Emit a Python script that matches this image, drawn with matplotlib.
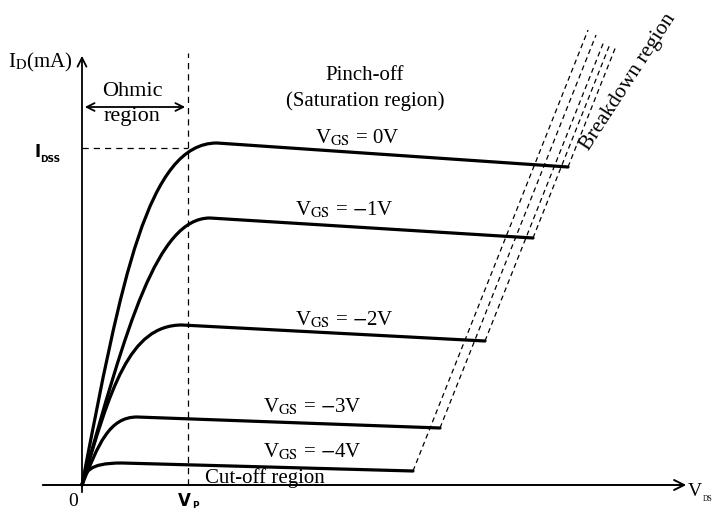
import matplotlib
matplotlib.use('Agg')

import matplotlib.pyplot as plt
from matplotlib.path import Path
from matplotlib.patches import PathPatch

# ============================================================
# DATA (diagram units: V_DS and I_D measured from the origin)
# ============================================================

vgs_labels = [r"V$_{\rm GS}$ = 0V", r"V$_{\rm GS}$ = $-$1V", r"V$_{\rm GS}$ = $-$2V",
              r"V$_{\rm GS}$ = $-$3V", r"V$_{\rm GS}$ = $-$4V"]
init_slope = [5.2, 3.55, 3.4, 2.5, 4.0]      # slope of the ohmic rise
i_peak = [342, 267, 160, 68, 22]             # saturation current just after the knee
v_peak = [135, 128, 100, 55, 40]             # where the plateau peaks
i_end = [318, 247, 144, 57, 14]              # current where breakdown starts
v_end = [486, 451, 403, 358, 331]            # V_DS where breakdown starts
i_break_top = [439, 442, 445, 450, 455]      # top of the dashed breakdown lines
break_run = 0.397                            # dV per dI on the breakdown lines

v_pinch = 106
i_dss = 337

# ============================================================
# STYLE
# ============================================================

plt.rcParams.update({
    "font.family": ["Liberation Serif", "DejaVu Serif"],
    "mathtext.fontset": "stix",
    "font.size": 15,
})

fig = plt.figure(figsize=(7.15, 5.13), dpi=100)
ax = fig.add_axes([0, 0, 1, 1])
ax.set_xlim(-82, 633)
ax.set_ylim(-28, 485)
ax.axis('off')

# axes with arrows
ax.annotate('', xy=(607, 0), xytext=(-42, 0),
            arrowprops=dict(arrowstyle='->', lw=1.4, color='black',
                            mutation_scale=18))
ax.annotate('', xy=(0, 432), xytext=(0, -10),
            arrowprops=dict(arrowstyle='->', lw=1.3, color='black',
                            mutation_scale=16))

# pinch-off and I_DSS guides
ax.plot([v_pinch, v_pinch], [0, 432], color='black', lw=0.9, ls=(0, (5, 4)))
ax.plot([0, v_pinch], [i_dss, i_dss], color='black', lw=0.9, ls=(0, (5, 4)))

# ============================================================
# CURVES
# ============================================================

for k in range(len(vgs_labels)):
    corner = i_peak[k] / init_slope[k]
    p1 = corner * 0.6
    verts = [(0, 0), (p1, p1 * init_slope[k]), (corner, i_peak[k]),
             (v_peak[k], i_peak[k]), (v_end[k], i_end[k])]
    codes = [Path.MOVETO, Path.CURVE4, Path.CURVE4, Path.CURVE4, Path.LINETO]
    ax.add_patch(PathPatch(Path(verts, codes), fc='none', ec='black',
                           lw=2.3, capstyle='round', joinstyle='round'))

    # breakdown
    top = i_break_top[k]
    ax.plot([v_end[k], v_end[k] + (top - i_end[k]) * break_run], [i_end[k], top],
            color='black', lw=0.9, ls=(0, (4, 3)))

# ============================================================
# LABELS
# ============================================================

label_pos = [(275, 347), (262, 275), (262, 165), (230, 78), (230, 33)]
for (x, y), t in zip(label_pos, vgs_labels):
    ax.text(x, y, t, ha='center', va='center', fontsize=15)

ax.text(-42, 423, r"I$_{\rm D}$(mA)", ha='center', va='center', fontsize=15)

# Ohmic region with double arrow
ax.annotate('', xy=(0, 378), xytext=(v_pinch, 378),
            arrowprops=dict(arrowstyle='<->', lw=1.3, color='black',
                            mutation_scale=14))
ax.text(50, 393, "Ohmic", ha='center', va='center', fontsize=16)
ax.text(50, 368, "region", ha='center', va='center', fontsize=16)

ax.text(283, 410, "Pinch-off", ha='center', va='center', fontsize=15)
ax.text(283, 384, "(Saturation region)", ha='center', va='center', fontsize=15)

ax.text(546, 403, "Breakdown region", ha='center', va='center', fontsize=15.5,
        rotation=57)

ax.text(183, 7, "Cut-off region", ha='center', va='center', fontsize=15)

# bold sans labels
ax.text(-48, 333, "I", ha='left', va='center', fontsize=12, fontweight='bold',
        family='DejaVu Sans')
ax.text(-42, 326, "DSS", ha='left', va='center', fontsize=6.5, fontweight='bold',
        family='DejaVu Sans')
ax.text(v_pinch - 4, -16, "V", ha='center', va='center', fontsize=12,
        fontweight='bold', family='DejaVu Sans')
ax.text(v_pinch + 4, -21, "P", ha='left', va='center', fontsize=6.5,
        fontweight='bold', family='DejaVu Sans')

ax.text(-9, -16, "0", ha='center', va='center', fontsize=14)
ax.text(606, -7, "V", ha='left', va='center', fontsize=14)
ax.text(621, -14, "DS", ha='left', va='center', fontsize=5.5)

fig.savefig("out.png", dpi=100)
